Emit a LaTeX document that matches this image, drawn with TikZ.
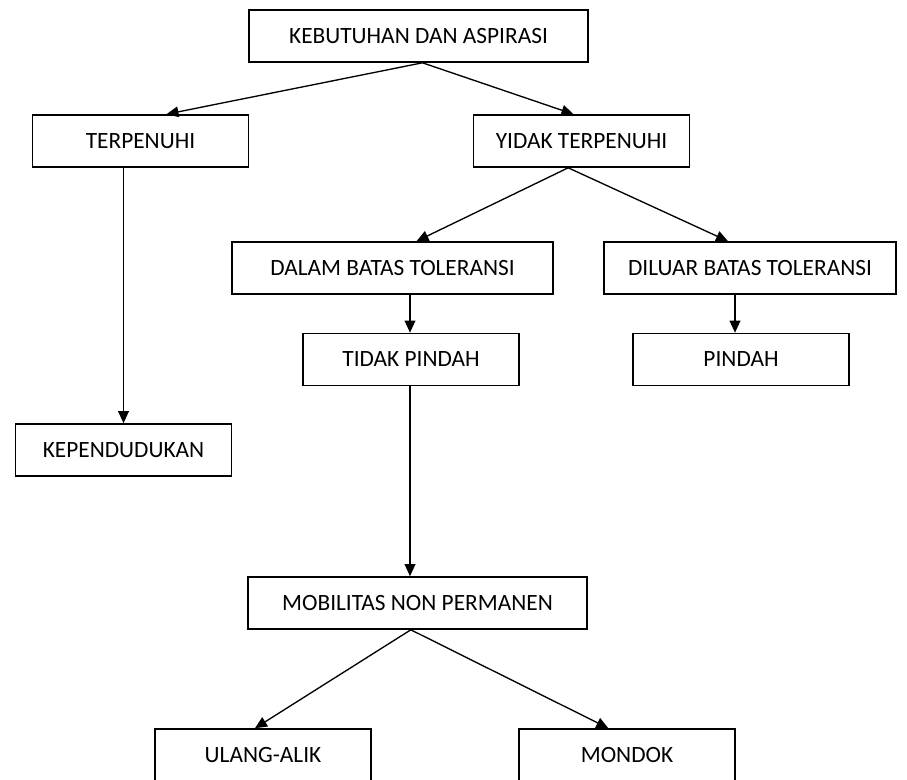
\documentclass[tikz,border=0pt]{standalone}
\usepackage{fontspec}
\setmainfont{Carlito}
\usepackage{tikz}
\usetikzlibrary{arrows.meta}

\begin{document}
\begin{tikzpicture}[
    x=0.75pt, y=-0.75pt,
    box/.style={
        rectangle,
        draw,
        line width=1.2pt,
        align=center,
        minimum width=162pt,
        minimum height=39pt,
        inner sep=0pt,
        font=\fontsize{17.5}{21}\selectfont
    },
    arrow/.style={
        -{Triangle[length=9pt,width=8pt]},
        line width=1pt
    }
]

% Page
\clip (0,0) rectangle (907,779);
\fill[white] (0,0) rectangle (907,779);

% Root
\node[box, minimum width=254pt] (kebutuhan) at (418.5,36)
{KEBUTUHAN DAN ASPIRASI};

% First level
\node[box] (terpenuhi) at (140.5,141)
{TERPENUHI};

\node[box] (yidak) at (581.5,141)
{YIDAK TERPENUHI};

% Tolerance
\node[box, minimum width=241pt] (dalam) at (392.5,268)
{DALAM BATAS TOLERANSI};

\node[box, minimum width=219pt] (diluar) at (750,268)
{DILUAR BATAS TOLERANSI};

% Decision
\node[box] (tidakpindah) at (411,359.5)
{TIDAK PINDAH};

\node[box] (pindah) at (741,359.5)
{PINDAH};

\node[box] (kependudukan) at (123.5,450)
{KEPENDUDUKAN};

% Mobility
\node[box, minimum width=254pt] (mobilitas) at (417.5,603)
{MOBILITAS NON PERMANEN};

\node[box] (ulangalik) at (263,755)
{ULANG-ALIK};

\node[box] (mondok) at (627,755)
{MONDOK};

% Connections
\draw[arrow] ([xshift=3pt]kebutuhan.south) -- ([xshift=19.5pt]terpenuhi.north);

\draw[arrow] ([xshift=3pt]kebutuhan.south) -- ([xshift=-6pt]yidak.north);

\draw[arrow] (kependudukan.north |- terpenuhi.south) -- (kependudukan.north);

\draw[arrow] ([xshift=-10pt]yidak.south) -- ([xshift=18pt]dalam.north);

\draw[arrow] ([xshift=-10pt]yidak.south) -- ([xshift=-16.5pt]diluar.north);

\draw[arrow] ([xshift=-0.75pt]tidakpindah.north |- dalam.south) -- ([xshift=-0.75pt]tidakpindah.north);

\draw[arrow] ([xshift=-4.5pt]pindah.north |- diluar.south) -- ([xshift=-4.5pt]pindah.north);

\draw[arrow] ([xshift=-0.75pt]tidakpindah.south) -- ([xshift=-0.75pt]tidakpindah.south |- mobilitas.north);

\draw[arrow] ([xshift=-5pt]mobilitas.south) -- ([xshift=-6pt]ulangalik.north);

\draw[arrow] ([xshift=-5pt]mobilitas.south) -- ([xshift=-14pt]mondok.north);

\end{tikzpicture}
\end{document}
